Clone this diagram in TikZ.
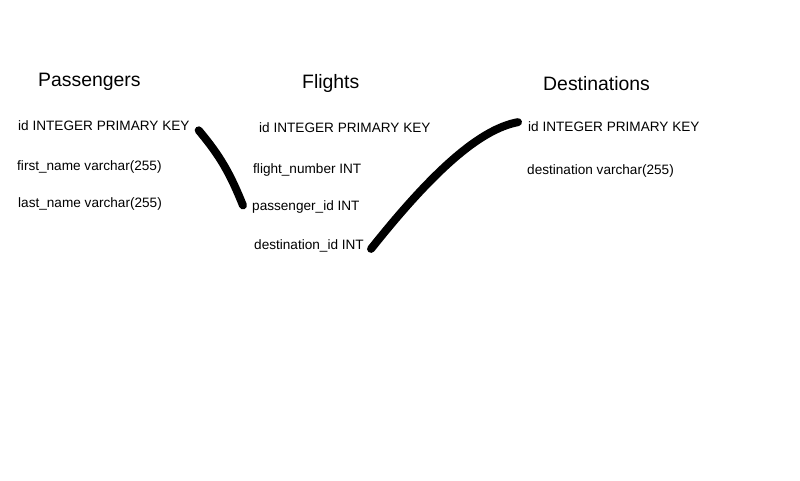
\documentclass[tikz,border=0pt]{standalone}
\usepackage{fontspec}
\setmainfont{Liberation Sans}
\usepackage{tikz}

\begin{document}
\begin{tikzpicture}[x=1pt, y=-1pt,
		title/.style={anchor=base west, inner sep=0pt, font=\fontsize{19.4}{22}\selectfont},
		fld/.style={anchor=base west, inner sep=0pt, font=\fontsize{13.6}{16}\selectfont},
		link/.style={line width=8pt, line cap=round, line join=round}]
		\useasboundingbox [fill=white] (0,0) rectangle (800,480);

		\node [title] (tpass) at (38,86) {Passengers};
		\node [title] (tfli) at (302,88) {Flights};
		\node [title] (tdest) at (543,90) {Destinations};

		\node [fld] (pid) at (18,130) {id INTEGER PRIMARY KEY};
		\node [fld] (pfirst) at (17,170) {first\_name varchar(255)};
		\node [fld] (plast) at (18,207) {last\_name varchar(255)};

		\node [fld] (fid) at (259,132) {id INTEGER PRIMARY KEY};
		\node [fld] (fnum) at (253,173) {flight\_number INT};
		\node [fld] (fpass) at (252,210) {passenger\_id INT};
		\node [fld] (fdest) at (254,249) {destination\_id INT};

		\node [fld] (did) at (528,131) {id INTEGER PRIMARY KEY};
		\node [fld] (dname) at (527,174) {destination varchar(255)};

		\draw [link] ([xshift=9pt]pid.south east) to[out=-50, in=112] ([xshift=-9pt, yshift=1pt]fpass.west);
		\draw [link] ([xshift=7pt, yshift=3pt]fdest.south east) .. controls +(62,-78) and +(-38,7) .. ([xshift=-10pt, yshift=4pt]did.west);

	\end{tikzpicture}
\end{document}
